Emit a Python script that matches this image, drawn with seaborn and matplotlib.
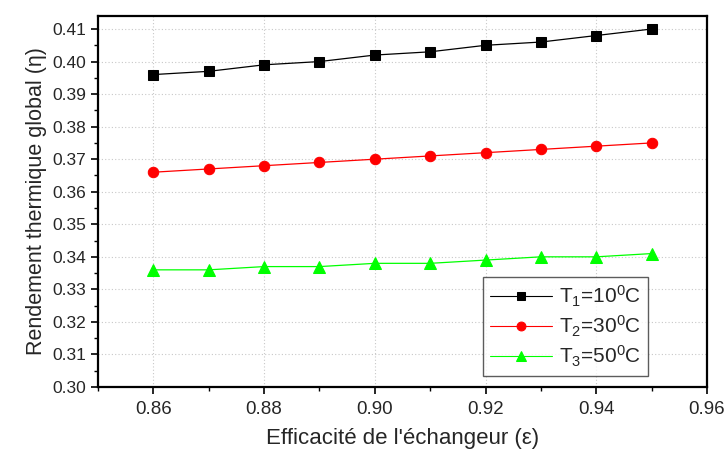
import numpy as np
import pandas as pd
import seaborn as sns
import matplotlib
matplotlib.use("Agg")
import matplotlib.pyplot as plt
from matplotlib.ticker import MultipleLocator

efficacite = [0.86, 0.87, 0.88, 0.89, 0.90, 0.91, 0.92, 0.93, 0.94, 0.95]
t1_values = [0.396, 0.397, 0.399, 0.400, 0.402, 0.403, 0.405, 0.406, 0.408, 0.410]
t2_values = [0.366, 0.367, 0.368, 0.369, 0.370, 0.371, 0.372, 0.373, 0.374, 0.375]
t3_values = [0.336, 0.336, 0.337, 0.337, 0.338, 0.338, 0.339, 0.340, 0.340, 0.341]
labels = [r"T$_1$=10$^0$C", r"T$_2$=30$^0$C", r"T$_3$=50$^0$C"]

sns.set_theme(style="white")
plt.rcParams['font.family'] = ['Liberation Sans', 'DejaVu Sans']
plt.rcParams['mathtext.fontset'] = 'custom'
plt.rcParams['mathtext.rm'] = 'Liberation Sans'
plt.rcParams['mathtext.it'] = 'Liberation Sans'

df = pd.DataFrame({
    "eps": efficacite * 3,
    "eta": t1_values + t2_values + t3_values,
    "serie": [labels[0]] * 10 + [labels[1]] * 10 + [labels[2]] * 10,
})

fig = plt.figure(figsize=(7.27, 4.5), dpi=100)
ax = fig.add_axes([98 / 727, 1 - 387 / 450, (707 - 98) / 727, (387 - 16) / 450])

colors = ["black", "red", "#00ff00"]
markers = ["s", "o", "^"]
msizes = [7, 7.5, 8]
for lab, col, mk, ms in zip(labels, colors, markers, msizes):
    sub = df[df["serie"] == lab]
    sns.lineplot(data=sub, x="eps", y="eta", ax=ax, color=col, marker=mk,
                 markersize=ms, markeredgecolor=col, linewidth=0.9, label=lab)

ax.set_xlim(0.85, 0.96)
ax.set_ylim(0.30, 0.414)
ax.xaxis.set_minor_locator(MultipleLocator(0.01))
ax.yaxis.set_minor_locator(MultipleLocator(0.005))
xt = np.arange(0.86, 0.961, 0.02)
ax.set_xticks(xt)
ax.set_xticklabels([f"{v:.2f}" for v in xt])
yt = np.arange(0.30, 0.4101, 0.01)
ax.set_yticks(yt)
ax.set_yticklabels([f"{v:.2f}" for v in yt])

ax.grid(True, which="major", linestyle=(0, (1, 2)), color="#c8c8c8", linewidth=0.8)
ax.tick_params(axis="both", which="major", direction="out", length=5, width=1.2,
               color="black", left=True, bottom=True)
ax.tick_params(axis="y", which="major", labelsize=12.5)
ax.tick_params(axis="x", which="major", labelsize=13.5, pad=5)
ax.tick_params(axis="both", which="minor", direction="out", length=3, width=1.0,
               color="black", left=True, bottom=True)
for s in ax.spines.values():
    s.set_color("black")
    s.set_linewidth(1.6)

ax.set_xlabel("Efficacité de l'échangeur (ε)", fontsize=16, labelpad=7)
ax.set_ylabel("Rendement thermique global (η)", fontsize=15.5, labelpad=4)

leg = ax.legend(loc="lower right", bbox_to_anchor=(0.903, 0.03), borderaxespad=0,
                fontsize=15, frameon=True, fancybox=False, edgecolor="#333333",
                handlelength=3.0, borderpad=0.35, labelspacing=0.22, handletextpad=0.3,
                markerscale=0.85)
leg.get_frame().set_linewidth(1.0)
for line in leg.get_lines():
    line.set_linewidth(0.8)

fig.savefig("out.png", dpi=100)
